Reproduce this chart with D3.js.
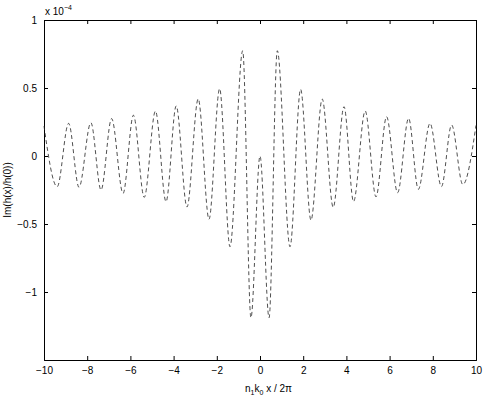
<!DOCTYPE html>
<html>
<head>
<meta charset="utf-8">
<script src="https://cdn.jsdelivr.net/npm/d3@7"></script>
<style>
  body { margin: 0; background: #fff; }
  text { font-family: "Liberation Sans", Arial, sans-serif; font-size: 10px; fill: #000; }
</style>
</head>
<body>
<script>
// extrema of Im(h(x)/h(0)) (units of 1e-4)
const xs = [-10, -9.39, -8.86, -8.38, -7.83, -7.36, -6.87, -6.34, -5.86, -5.36, -4.84, -4.35,
  -3.88, -3.38, -2.86, -2.36, -1.87, -1.39, -0.80, -0.42, 0, 0.42, 0.80, 1.39, 1.88, 2.36,
  2.88, 3.39, 3.89, 4.33, 4.87, 5.37, 5.86, 6.37, 6.88, 7.33, 7.87, 8.40, 8.87, 9.39, 10];
const ys = [0.22, -0.226, 0.24, -0.23, 0.245, -0.25, 0.275, -0.275, 0.30, -0.304, 0.33, -0.336,
  0.368, -0.375, 0.42, -0.465, 0.495, -0.667, 0.774, -1.19, 0.0, -1.19, 0.774, -0.667, 0.49, -0.472,
  0.419, -0.377, 0.363, -0.335, 0.331, -0.30, 0.289, -0.27, 0.277, -0.245, 0.24, -0.225, 0.228, -0.21, 0.225];

const xTicks = [-10, -8, -6, -4, -2, 0, 2, 4, 6, 8, 10];
const yTicks = [-1, -0.5, 0, 0.5, 1];

const width = 485, height = 401;
const m = {left: 44, right: 9, top: 20, bottom: 41};

const svg = d3.select('body').append('svg')
  .attr('width', width)
  .attr('height', height);

const x = d3.scaleLinear().domain([-10, 10]).range([m.left, width - m.right]);
const y = d3.scaleLinear().domain([-1.5, 1]).range([height - m.bottom, m.top]);

const fmt = d => d3.format('')(d).replace('-', '\u2212');

// axes, MATLAB style: ticks pointing inward, mirrored on top/right
svg.append('g')
  .attr('transform', `translate(0,${y(-1.5)})`)
  .call(d3.axisBottom(x).tickValues(xTicks).tickSize(-4).tickPadding(7).tickFormat(fmt));
svg.append('g')
  .attr('transform', `translate(0,${y(1)})`)
  .call(d3.axisTop(x).tickValues(xTicks).tickSize(-4).tickFormat(''));
svg.append('g')
  .attr('transform', `translate(${x(-10)},0)`)
  .call(d3.axisLeft(y).tickValues(yTicks).tickSize(-4).tickPadding(7).tickFormat(fmt));
svg.append('g')
  .attr('transform', `translate(${x(10)},0)`)
  .call(d3.axisRight(y).tickValues(yTicks).tickSize(-4).tickFormat(''));

svg.selectAll('.domain').attr('stroke', '#000').attr('stroke-width', 1);
svg.selectAll('.tick line').attr('stroke', '#000');
svg.selectAll('.tick text').style('font-size', '10px');

const line = d3.line()
  .x(i => x(xs[i]))
  .y(i => y(ys[i]))
  .curve(d3.curveMonotoneX);

svg.append('path')
  .datum(d3.range(xs.length))
  .attr('d', line)
  .attr('fill', 'none')
  .attr('stroke', '#222')
  .attr('stroke-width', 0.8)
  .attr('stroke-dasharray', '4,3');

// exponent label
const ex = svg.append('text').attr('x', 45).attr('y', 15);
ex.append('tspan').text('x 10');
ex.append('tspan').attr('dy', -5).style('font-size', '7px').text('\u22124');

// axis labels
const xl = svg.append('text').attr('x', 245).attr('y', 392);
xl.append('tspan').text('n');
xl.append('tspan').attr('dy', 3).style('font-size', '7px').text('1');
xl.append('tspan').attr('dy', -3).text('k');
xl.append('tspan').attr('dy', 3).style('font-size', '7px').text('0');
xl.append('tspan').attr('dy', -3).text(' x / 2\u03c0');

svg.append('text')
  .attr('transform', 'translate(11,190) rotate(-90)')
  .attr('text-anchor', 'middle')
  .text('Im(h(x)/h(0))');
</script>
</body>
</html>
